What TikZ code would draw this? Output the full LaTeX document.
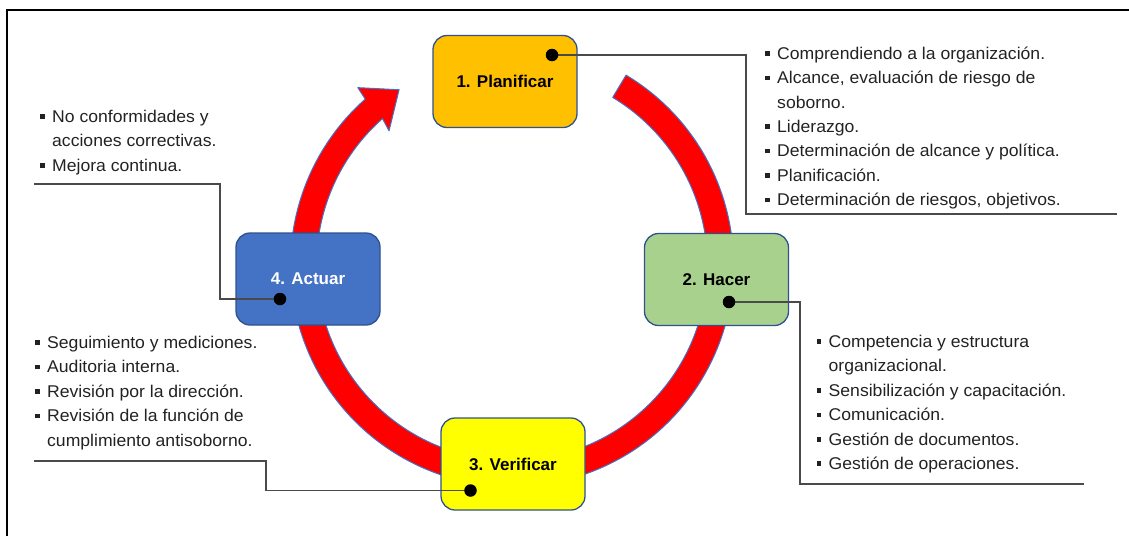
\documentclass[tikz,border=0pt]{standalone}
\usepackage{fontspec}
\setmainfont{Liberation Sans}
\newfontfamily\listfont[FakeStretch=1.035]{Liberation Sans}
\usetikzlibrary{calc}

\definecolor{ringred}{HTML}{FF0000}
\definecolor{ringedge}{HTML}{4472C4}
\definecolor{boxedge}{HTML}{2F528F}
\definecolor{planc}{HTML}{FFC000}
\definecolor{hacerc}{HTML}{A9D18E}
\definecolor{verifc}{HTML}{FFFF00}
\definecolor{actuarc}{HTML}{4472C4}
\definecolor{leadc}{HTML}{4A4A4A}
\definecolor{txtc}{HTML}{222222}

% square bullet and hanging indent for the lists
\newcommand\bul{\makebox[12pt][l]{\rule[3.6pt]{4.5pt}{4.5pt}}}
\newcommand\hang{\hspace*{12pt}}

\tikzset{
  phase/.style={draw=boxedge, line width=1.3pt, rounded corners=14pt,
    minimum width=144pt, minimum height=92pt, inner sep=0pt,
    font=\fontsize{17}{20}\selectfont\bfseries},
  leader/.style={draw=leadc, line width=1.2pt},
  dot/.style={circle, fill=black, minimum size=12.5pt, inner sep=0pt},
  listtext/.style={anchor=north west, align=left, inner sep=0pt, text=txtc,
    font=\listfont\fontsize{17}{24.4}\selectfont}
}

\begin{document}
\begin{tikzpicture}[x=1pt, y=-1pt]
\useasboundingbox (0,0) rectangle (1129,536);

% outer frame (left and top edges)
\draw[line width=1.2pt] (7,536) -- (7,10) -- (1129,10);

% circular cycle arrow
\coordinate (C) at (512,265);
\fill[ringred, draw=ringedge, line width=1pt, line join=round]
  ($(C)+(-59:221.5)$) arc[start angle=-59, end angle=228.5, radius=221.5]
  -- ($(C)+(229:235)$)
  -- ($(C)+(237.2:208.5)$)
  -- ($(C)+(227.5:182)$)
  -- ($(C)+(228.5:195.5)$)
  arc[start angle=228.5, end angle=-59, radius=195.5] -- cycle;

% the four phases
\node[phase, fill=planc]   (p1) at (505,81.5)  {1. Planificar};
\node[phase, fill=hacerc]  (p2) at (716.5,279.5) {2. Hacer};
\node[phase, fill=verifc]  (p3) at (513,464)   {3. Verificar};
\node[phase, fill=actuarc, text=white] (p4) at (308,279) {4. Actuar};

% anchor dots
\coordinate (d1) at (552,55);
\coordinate (d2) at (729,302);
\coordinate (d3) at (470.5,490.5);
\coordinate (d4) at (280,299);

% leader bends and free ends
\coordinate (k1) at (746,214);   \coordinate (e1) at (1117,214);
\coordinate (k2) at (800,484);   \coordinate (e2) at (1083.5,484);
\coordinate (k3) at (266,461);   \coordinate (e3) at (34,461);
\coordinate (k4) at (220,184);   \coordinate (e4) at (34,184);

\draw[leader] (d1) -| (k1) -- (e1);
\draw[leader] (d2) -| (k2) -- (e2);
\draw[leader] (d3) -| (k3) -- (e3);
\draw[leader] (d4) -| (k4) -- (e4);

\node[dot] (n1) at (d1) {};
\node[dot] (n2) at (d2) {};
\node[dot] (n3) at (d3) {};
\node[dot] (n4) at (d4) {};

% lists of activities
\node[listtext] (l1) at (765,46.5) {\bul Comprendiendo a la organización.\\
  \bul Alcance, evaluación de riesgo de\\
  \hang soborno.\\
  \bul Liderazgo.\\
  \bul Determinación de alcance y política.\\
  \bul Planificación.\\
  \bul Determinación de riesgos, objetivos.};

\node[listtext] (l2) at (816.5,335) {\bul Competencia y estructura\\
  \hang organizacional.\\
  \bul Sensibilización y capacitación.\\
  \bul Comunicación.\\
  \bul Gestión de documentos.\\
  \bul Gestión de operaciones.};

\node[listtext] (l3) at (35,336) {\bul Seguimiento y mediciones.\\
  \bul Auditoria interna.\\
  \bul Revisión por la dirección.\\
  \bul Revisión de la función de\\
  \hang cumplimiento antisoborno.};

\node[listtext] (l4) at (40,110) {\bul No conformidades y\\
  \hang acciones correctivas.\\
  \bul Mejora continua.};
\end{tikzpicture}
\end{document}
